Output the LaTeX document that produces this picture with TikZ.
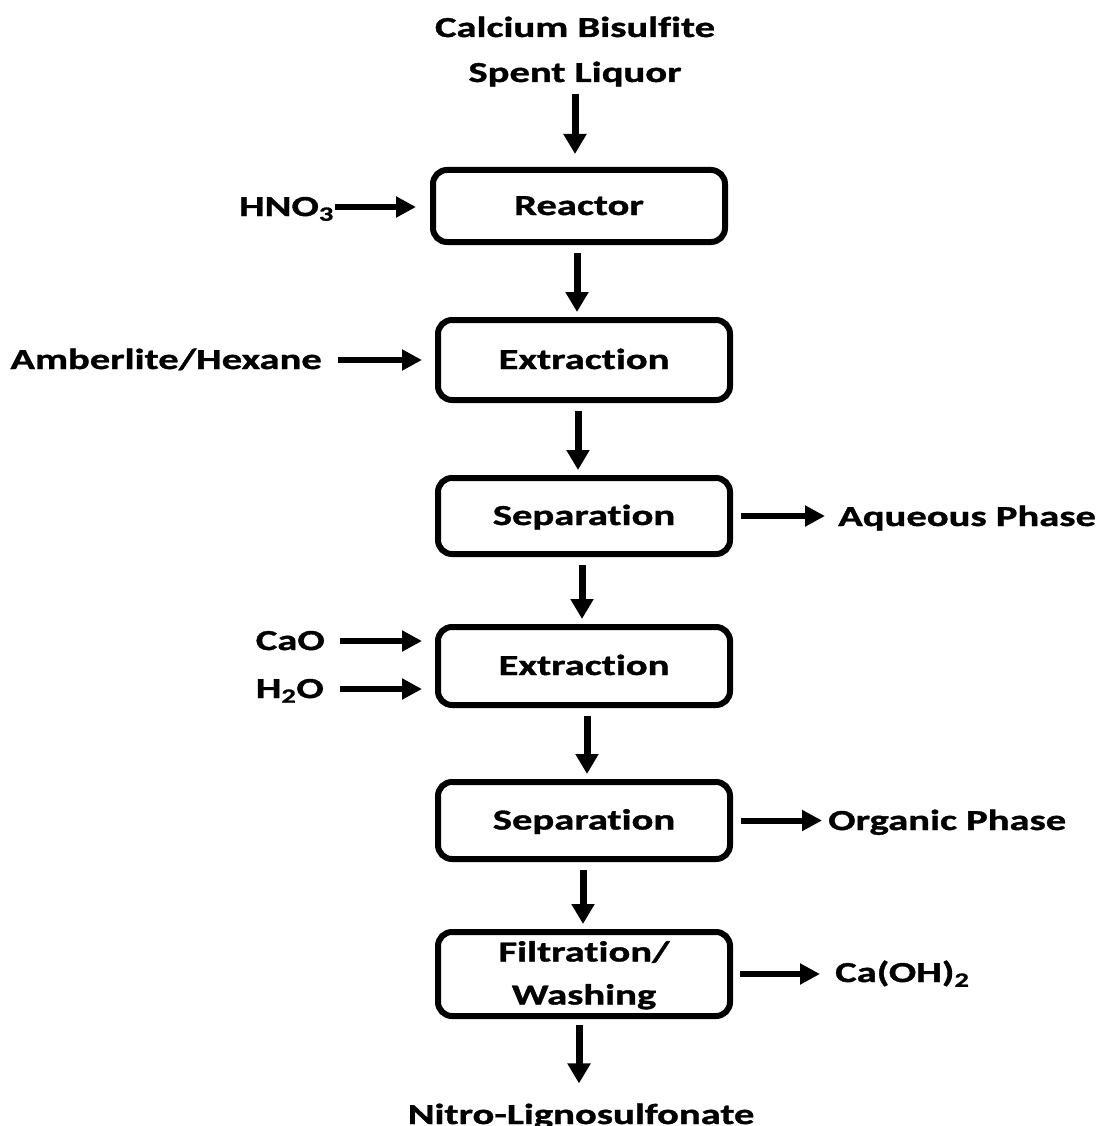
\documentclass[tikz,border=0pt]{standalone}
\usepackage{fontspec}
\setmainfont{Carlito}[FakeStretch=1.4, Ligatures=NoCommon, BoldFeatures={FakeBold=1.2}]
\usetikzlibrary{arrows.meta}

\tikzset{
  stage/.style={draw, line width=6pt, rounded corners=14pt, minimum width=292pt,
    inner sep=0pt, align=center, text height=20pt, text depth=2pt,
    font=\fontsize{29}{43}\selectfont\bfseries},
  tag/.style={inner sep=0pt, font=\fontsize{29}{45}\selectfont\bfseries},
  vflow/.style={line width=7pt, -{Triangle[length=20pt,width=22pt]}},
  hflow/.style={line width=6pt, -{Triangle[length=20pt,width=20pt]}},
}

\begin{document}
\begin{tikzpicture}[x=1pt,y=-1pt]
\useasboundingbox (0,0) rectangle (1096,1126);

% process stages
\node[stage, minimum height=72pt] (reactor) at (579,206) {Reactor};
\node[stage, minimum height=80pt] (ext1) at (584,360) {Extraction};
\node[stage, minimum height=76pt] (sep1) at (584,516) {Separation};
\node[stage, minimum height=78pt] (ext2) at (584,666) {Extraction};
\node[stage, minimum height=77pt] (sep2) at (584,820.5) {Separation};
\node[stage, minimum height=84pt, text height=63pt] (filt) at (584,974) {Filtration/\\Washing};

% streams in and out
\node[tag, align=center, anchor=base] (feed) at (575,82) {Calcium Bisulfite\\Spent Liquor};
\node[tag, anchor=base east] (hno) at (334,216) {HNO\textsubscript{3}};
\node[tag, anchor=base east] (amb) at (322,369) {Amberlite/Hexane};
\node[tag, anchor=base west] (aq) at (838,526) {Aqueous Phase};
\node[tag, anchor=base east] (cao) at (325,650) {CaO};
\node[tag, anchor=base east] (water) at (324,698) {H\textsubscript{2}O};
\node[tag, anchor=base west] (org) at (828,830) {Organic Phase};
\node[tag, anchor=base west] (caoh) at (835,982) {Ca(OH)\textsubscript{2}};
\node[tag, anchor=base] (prod) at (581,1124) {Nitro-Lignosulfonate};

% main line
\draw[vflow, shorten <=7pt, shorten >=13pt] (feed.south) -- (feed.south |- reactor.north);
\draw[vflow, shorten <=8pt, shorten >=5pt] ([xshift=-2pt]reactor.south) -- ([xshift=-2pt]reactor.south |- ext1.north);
\draw[vflow, shorten <=8pt, shorten >=5pt] ([xshift=-6pt]ext1.south) -- ([xshift=-6pt]ext1.south |- sep1.north);
\draw[vflow, shorten <=8pt, shorten >=5pt] ([xshift=-2pt]sep1.south) -- ([xshift=-2pt]sep1.south |- ext2.north);
\draw[vflow, shorten <=8pt, shorten >=5pt] ([xshift=3pt]ext2.south) -- ([xshift=3pt]ext2.south |- sep2.north);
\draw[vflow, shorten <=8pt, shorten >=5pt] ([xshift=-1pt]sep2.south) -- ([xshift=-1pt]sep2.south |- filt.north);
\draw[vflow, shorten <=6pt, shorten >=20pt] ([xshift=-5pt]filt.south) -- ([xshift=-5pt]filt.south |- prod.north);

% feeds
\draw[hflow, shorten <=1pt, shorten >=14pt] ([yshift=9pt]hno.base east) -- ([yshift=9pt]hno.base east -| reactor.west);
\draw[hflow, shorten <=16pt, shorten >=13pt] ([yshift=9pt]amb.base east) -- ([yshift=9pt]amb.base east -| ext1.west);
\draw[hflow, shorten <=15pt, shorten >=13pt] ([yshift=9pt]cao.base east) -- ([yshift=9pt]cao.base east -| ext2.west);
\draw[hflow, shorten <=16pt, shorten >=13pt] ([yshift=9pt]water.base east) -- ([yshift=9pt]water.base east -| ext2.west);

% products
\draw[hflow, shorten <=8pt, shorten >=13pt] (sep1.east) -- (sep1.east -| aq.west);
\draw[hflow, shorten <=8pt, shorten >=6pt] (sep2.east) -- (sep2.east -| org.west);
\draw[hflow, shorten <=7pt, shorten >=15pt] (filt.east) -- (filt.east -| caoh.west);
\end{tikzpicture}
\end{document}
